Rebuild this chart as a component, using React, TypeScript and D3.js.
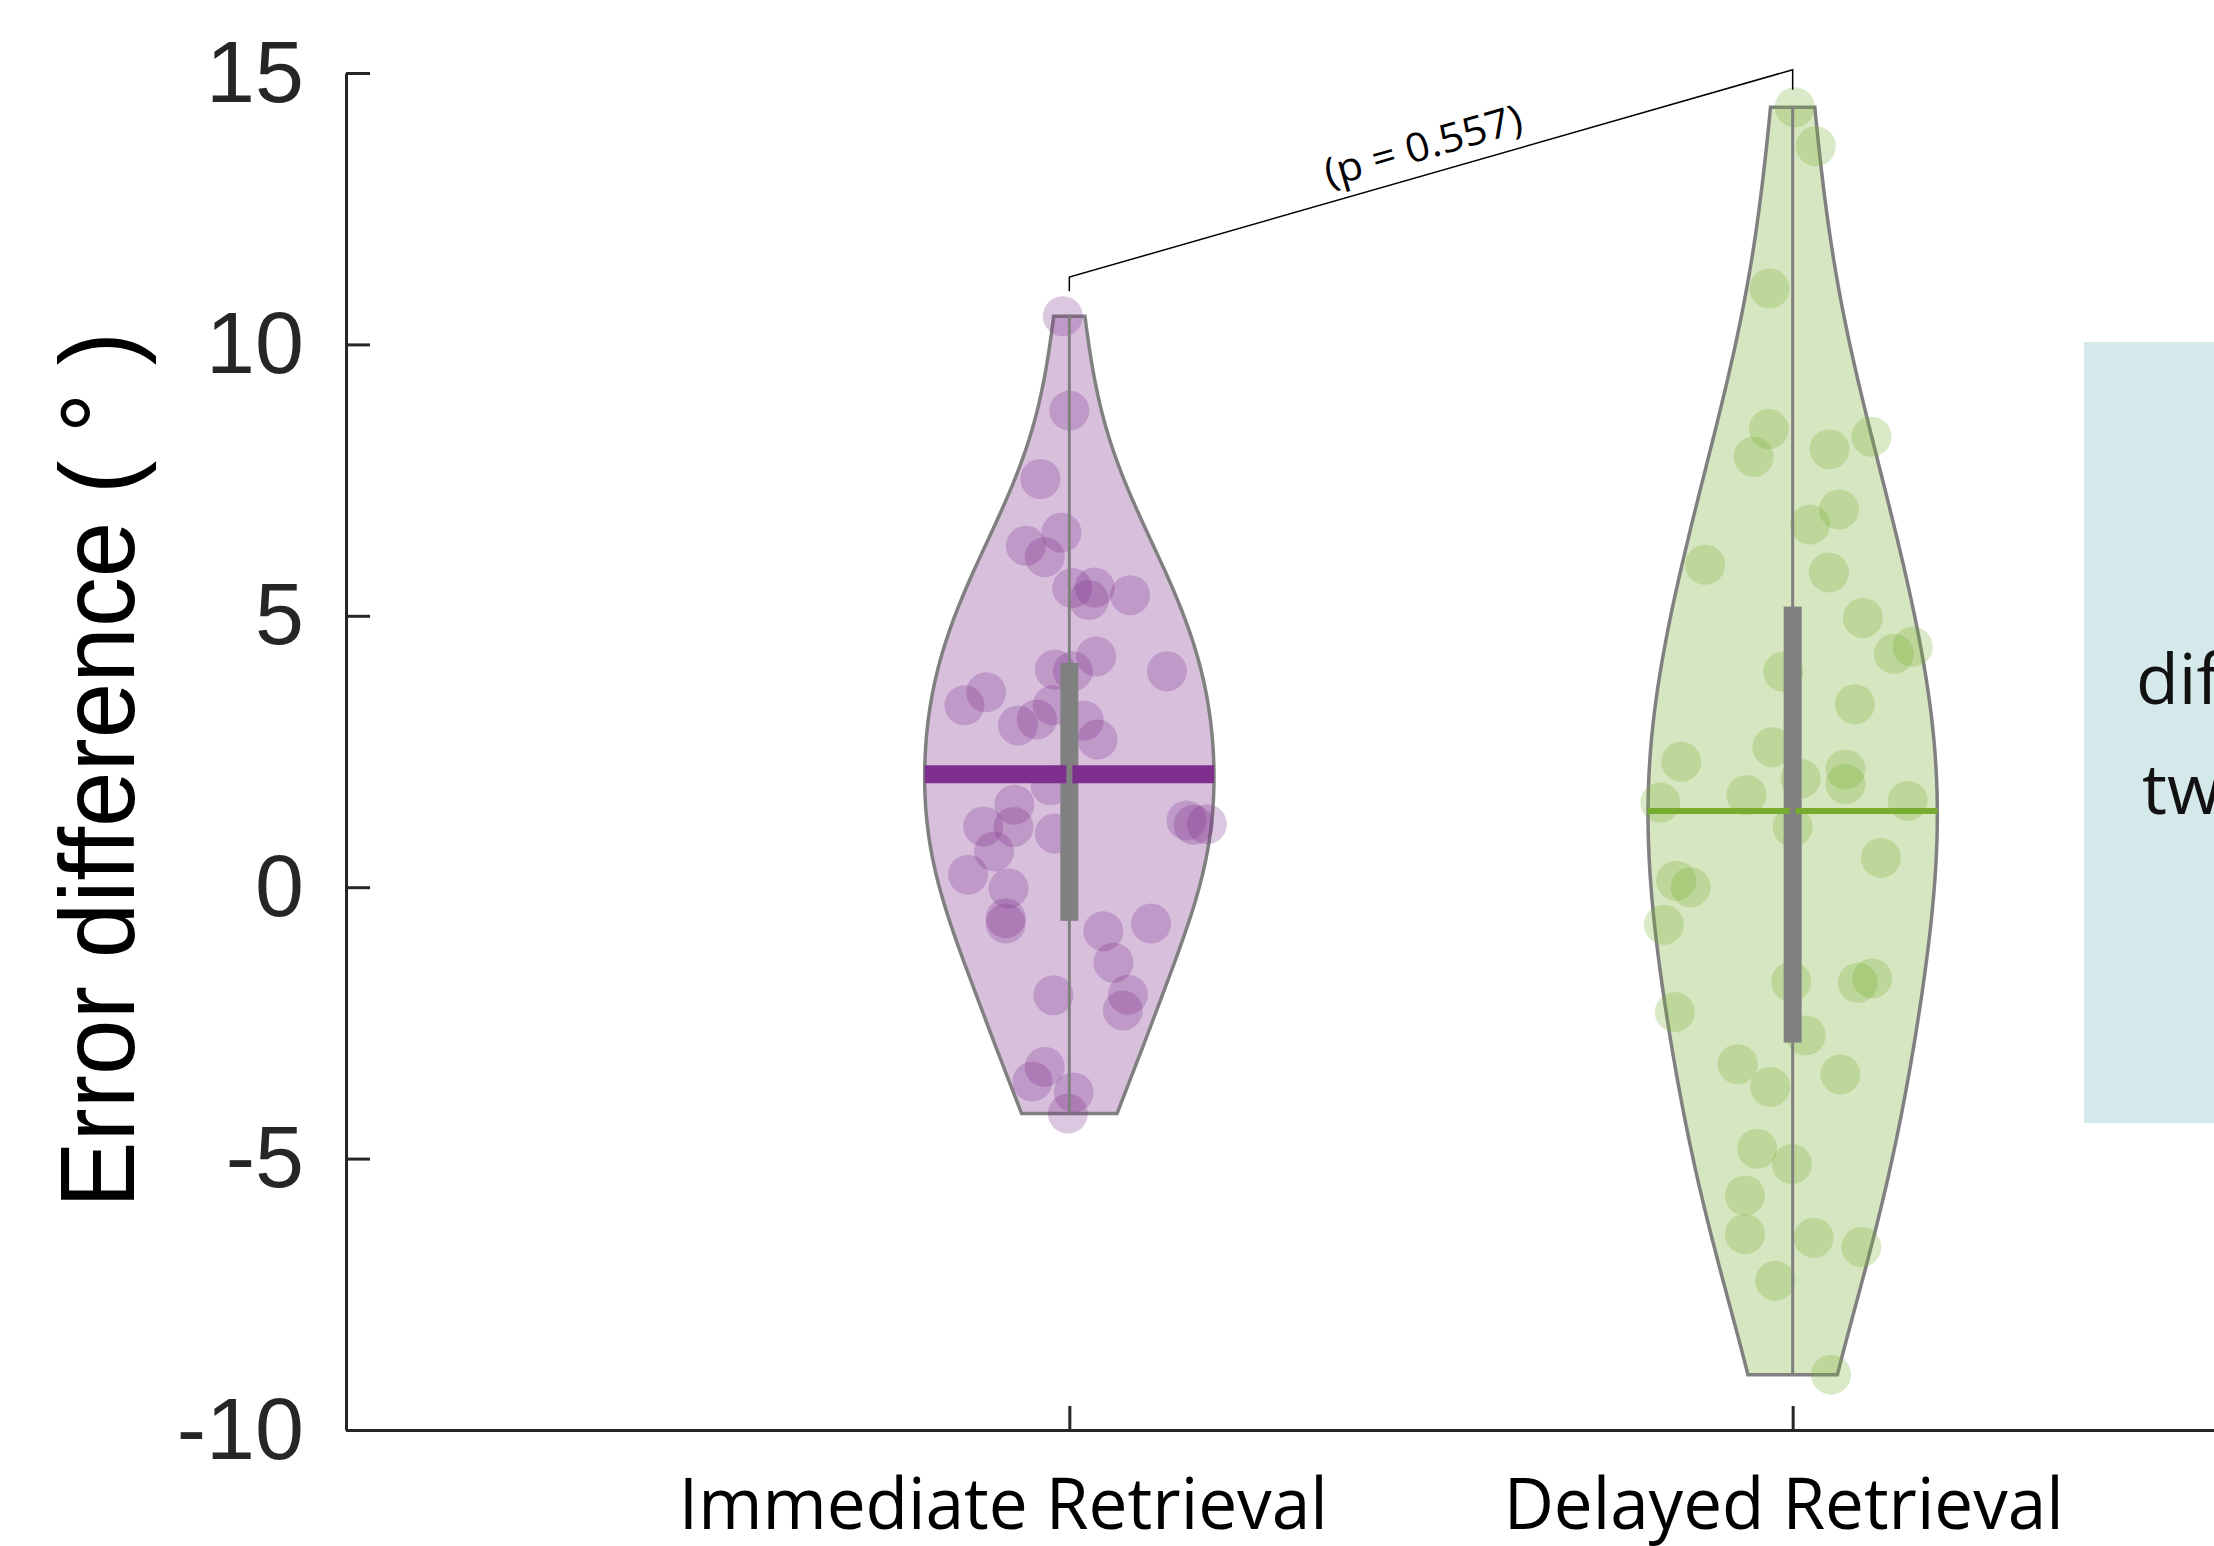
import React, { useEffect, useRef } from 'react';
import * as d3 from 'd3';

const groups = ['Immediate Retrieval', 'Delayed Retrieval'];
const groupColors = ['#7e2f8e', '#77ac30'];

// error difference (deg), one value per participant, with the horizontal jitter of its dot
const immediateValues = [10.52, 8.78, 7.52, 6.29, 6.53, 6.08, 5.51, 5.52, 5.29, 5.38, 4.01, 3.98, 4.25, 3.98, 3.35, 3.59, 2.98, 3.09, 3.35, 3.07, 2.72, 1.88, 1.52, 1.12, 1.11, 0.66, 0.99, 0.23, -0.02, -0.57, -0.67, 1.23, 1.15, 1.16, -0.81, -0.67, -1.39, -1.98, -2.27, -1.99, -3.31, -3.58, -3.78, -4.17];
const immediateJitter = [-0.009, 0.0, -0.04, -0.06, -0.011, -0.034, 0.004, 0.035, 0.027, 0.084, -0.02, 0.005, 0.037, 0.135, -0.145, -0.115, -0.071, -0.045, -0.023, 0.02, 0.039, -0.026, -0.076, -0.119, -0.077, -0.104, -0.02, -0.14, -0.084, -0.088, -0.088, 0.162, 0.172, 0.19, 0.047, 0.113, 0.061, 0.081, 0.074, -0.022, -0.034, -0.051, 0.006, -0.002];
const delayedValues = [14.37, 13.65, 11.03, 8.44, 7.93, 8.07, 8.3, 6.68, 6.96, 5.94, 5.8, 4.96, 4.3, 4.43, 3.97, 3.37, 2.31, 2.58, 2.0, 2.17, 1.9, 1.56, 1.7, 1.59, 1.11, 0.54, 0.12, 0.0, -0.69, -1.74, -1.76, -1.68, -2.3, -2.73, -3.26, -3.68, -3.45, -4.82, -5.1, -5.68, -6.39, -6.46, -6.63, -7.25, -8.98];
const delayedJitter = [0.003, 0.032, -0.032, -0.033, -0.054, 0.051, 0.109, 0.024, 0.064, -0.121, 0.05, 0.097, 0.14, 0.166, -0.013, 0.086, -0.154, -0.028, 0.011, 0.073, 0.073, -0.183, -0.064, 0.159, 0.0, 0.122, -0.161, -0.141, -0.178, -0.002, 0.09, 0.11, -0.163, 0.018, -0.076, -0.031, 0.066, -0.049, -0.001, -0.066, -0.066, 0.029, 0.095, -0.024, 0.053];

const yTicks = [-10, -5, 0, 5, 10, 15];
const pLabel = '(p = 0.557)';
const bracketEnds = [[10.98, 11.24], [14.69, 15.06]];
const noteLines = ['difference between', 'two conditions'];

const W = 2214;
const H = 1546;

// ksdensity default bandwidth (normal approx with MAD)
function bandwidth(v: number[]) {
  const med = d3.median(v) as number;
  const mad = d3.median(v, (d) => Math.abs(d - med)) as number;
  return (mad / 0.6745) * Math.pow(4 / (3 * v.length), 0.2);
}

// matlab style quantile
function quantile(sorted: number[], p: number) {
  const n = sorted.length;
  const pos = n * p + 0.5;
  if (pos < 1) return sorted[0];
  if (pos >= n) return sorted[n - 1];
  const lo = Math.floor(pos);
  return sorted[lo - 1] + (pos - lo) * (sorted[lo] - sorted[lo - 1]);
}

function App() {
  const svgRef = useRef<SVGSVGElement>(null);

  useEffect(() => {
    const svg = d3.select(svgRef.current);
    svg.selectAll('*').remove();

    const x = d3.scaleLinear().domain([0, 3]).range([346, 2516]);
    const y = d3.scaleLinear().domain([-10, 15]).range([1430, 73]);
    const axisColor = '#262626';

    // note box on the right (cut off by the figure edge)
    svg.append('rect').attr('x', 2084).attr('y', 342).attr('width', 400).attr('height', 781).attr('fill', '#d5e8ea');
    svg.selectAll('.note').data(noteLines).enter().append('text')
      .attr('x', (d, i) => 2136 + i * 6)
      .attr('y', (d, i) => 704 + i * 110)
      .attr('font-family', 'Open Sans, sans-serif')
      .attr('font-size', 70)
      .attr('fill', '#111')
      .text((d) => d);

    const series = [
      { values: immediateValues, jitter: immediateJitter },
      { values: delayedValues, jitter: delayedJitter },
    ];
    const meanWidths = [18, 6];

    series.forEach((s, gi) => {
      const c = gi + 1;
      const col = groupColors[gi];
      const sorted = s.values.slice().sort((a, b) => a - b);
      const lo = sorted[0];
      const hi = sorted[sorted.length - 1];
      const bw = bandwidth(s.values);
      const grid = d3.range(0, 101).map((i) => lo + ((hi - lo) * i) / 100);
      const dens = grid.map((t) => d3.mean(s.values, (v) => Math.exp(-0.5 * ((t - v) / bw) ** 2)) as number);
      const maxD = d3.max(dens) as number;
      const half = (d: number) => (0.2 * d) / maxD;
      const pts = grid.map((t, i) => ({ t, w: half(dens[i]) }));

      const area = d3.area<{ t: number; w: number }>()
        .y((d) => y(d.t))
        .x0((d) => x(c - d.w))
        .x1((d) => x(c + d.w));

      svg.append('path').attr('d', area(pts))
        .attr('fill', col).attr('fill-opacity', 0.3)
        .attr('stroke', '#808080').attr('stroke-width', 3.5);

      svg.append('g').selectAll('circle').data(s.values).enter().append('circle')
        .attr('cx', (d, i) => x(c + s.jitter[i]))
        .attr('cy', (d) => y(d))
        .attr('r', 20)
        .attr('fill', col)
        .attr('fill-opacity', 0.27);

      // whisker, box, mean
      const q1 = quantile(sorted, 0.25);
      const q3 = quantile(sorted, 0.75);
      const iqr = q3 - q1;
      const wLo = d3.min(sorted.filter((v) => v >= q1 - 1.5 * iqr)) as number;
      const wHi = d3.max(sorted.filter((v) => v <= q3 + 1.5 * iqr)) as number;
      svg.append('line').attr('x1', x(c)).attr('x2', x(c)).attr('y1', y(wHi)).attr('y2', y(wLo))
        .attr('stroke', '#808080').attr('stroke-width', 3);
      svg.append('rect').attr('x', x(c) - 9).attr('width', 18)
        .attr('y', y(q3)).attr('height', y(q1) - y(q3)).attr('fill', '#808080');

      const m = d3.mean(s.values) as number;
      const mw = half(d3.mean(s.values, (v) => Math.exp(-0.5 * ((m - v) / bw) ** 2)) as number);
      svg.append('line').attr('x1', x(c - mw)).attr('x2', x(c) - 3).attr('y1', y(m)).attr('y2', y(m))
        .attr('stroke', col).attr('stroke-width', meanWidths[gi]);
      svg.append('line').attr('x1', x(c) + 3).attr('x2', x(c + mw)).attr('y1', y(m)).attr('y2', y(m))
        .attr('stroke', col).attr('stroke-width', meanWidths[gi]);
    });

    // significance bracket
    const bx1 = x(1), bx2 = x(2);
    const by1 = y(bracketEnds[0][1]), by2 = y(bracketEnds[1][1]);
    svg.append('path')
      .attr('d', `M${bx1},${y(bracketEnds[0][0])}L${bx1},${by1}L${bx2},${by2}L${bx2},${y(bracketEnds[1][0])}`)
      .attr('fill', 'none').attr('stroke', '#000').attr('stroke-width', 1.5);
    const ang = (Math.atan2(by2 - by1, bx2 - bx1) * 180) / Math.PI;
    svg.append('text')
      .attr('transform', `translate(${(bx1 + bx2) / 2},${(by1 + by2) / 2}) rotate(${ang})`)
      .attr('y', -15)
      .attr('text-anchor', 'middle')
      .attr('font-family', 'Open Sans, sans-serif')
      .attr('font-size', 40)
      .attr('textLength', 204)
      .attr('lengthAdjust', 'spacingAndGlyphs')
      .text(pLabel);

    // y axis
    const gy = svg.append('g').attr('transform', `translate(${x(0)},0)`)
      .call(d3.axisLeft(y).tickValues(yTicks).tickSize(-24).tickSizeOuter(0).tickPadding(42).tickFormat((d) => String(d)));
    gy.select('.domain').attr('stroke', axisColor).attr('stroke-width', 3);
    gy.selectAll('.tick line').attr('stroke', axisColor).attr('stroke-width', 3);
    gy.selectAll('.tick text').attr('fill', axisColor).attr('font-size', 88)
      .attr('font-family', 'Liberation Sans, Arial, sans-serif');

    // x axis
    const gx = svg.append('g').attr('transform', `translate(0,${y(-10)})`)
      .call(d3.axisBottom(x).tickValues([1, 2]).tickSize(-24).tickSizeOuter(0).tickFormat(() => ''));
    gx.select('.domain').attr('stroke', axisColor).attr('stroke-width', 3);
    gx.selectAll('.tick line').attr('stroke', axisColor).attr('stroke-width', 3);

    const labelShift = [-66, -9];
    const labelLen = [649, 560];
    svg.selectAll('.xl').data(groups).enter().append('text')
      .attr('x', (d, i) => x(i + 1) + labelShift[i])
      .attr('y', 1529)
      .attr('text-anchor', 'middle')
      .attr('font-family', 'Open Sans, sans-serif')
      .attr('font-size', 72)
      .attr('textLength', (d, i) => labelLen[i])
      .attr('lengthAdjust', 'spacingAndGlyphs')
      .attr('fill', '#000')
      .text((d) => d);

    svg.append('text')
      .attr('transform', 'translate(134,770) rotate(-90)')
      .attr('text-anchor', 'middle')
      .attr('font-family', 'Liberation Sans, Arial, sans-serif')
      .attr('font-size', 106)
      .attr('textLength', 876)
      .attr('lengthAdjust', 'spacingAndGlyphs')
      .attr('fill', '#000')
      .text('Error difference ( ° )');
  }, []);

  return (
    <svg ref={svgRef} width={W} height={H}
      style={{ position: 'absolute', left: 0, top: 0, background: '#fff', overflow: 'hidden' }} />
  );
}

export default App;
